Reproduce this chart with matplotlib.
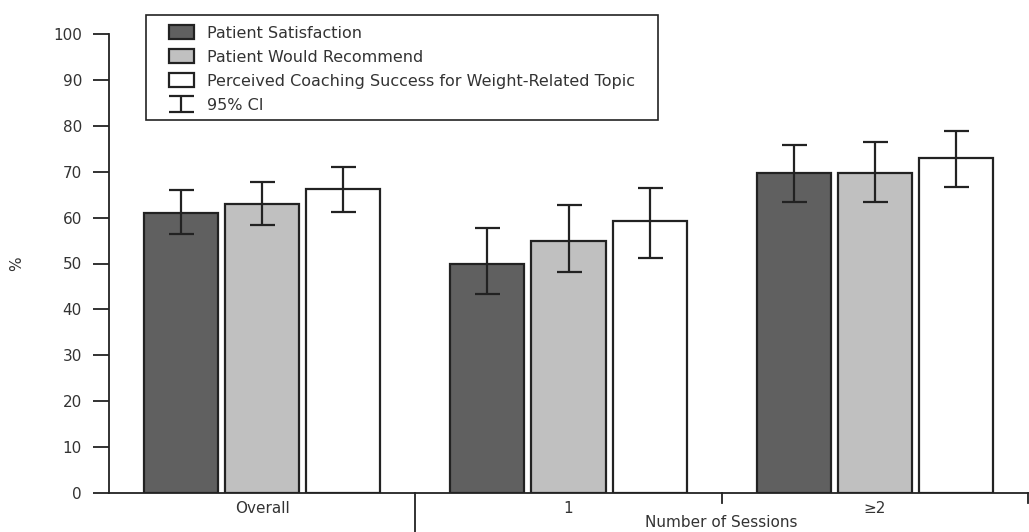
import numpy as np
import matplotlib
matplotlib.use('Agg')
import matplotlib.pyplot as plt
import matplotlib.transforms as mtransforms
from matplotlib.patches import Rectangle

# dati
groups = ['Overall', '1', '≥2']
series = ['Patient Satisfaction', 'Patient Would Recommend',
          'Perceived Coaching Success for Weight-Related Topic']
values = [
    [61.0, 49.8, 69.8],
    [63.0, 55.0, 69.8],
    [66.2, 59.3, 73.0],
]
ci_low = [
    [56.4, 43.3, 63.3],
    [58.4, 48.1, 63.3],
    [61.3, 51.3, 66.7],
]
ci_high = [
    [66.0, 57.8, 75.8],
    [67.8, 62.7, 76.4],
    [71.0, 66.4, 78.9],
]
colors = ['#606060', '#c0c0c0', '#ffffff']
txt = '#333333'

W, H = 1029, 532
fig = plt.figure(figsize=(W / 100, H / 100), dpi=100)
ax = fig.add_axes([109 / W, 1 - 493 / H, 919 / W, 459 / H])

x = np.arange(len(groups))
offset = 0.265
width = 0.242

bars = []
for i in range(len(series)):
    v = np.array(values[i])
    lo = v - np.array(ci_low[i])
    hi = np.array(ci_high[i]) - v
    b = ax.bar(x + (i - 1) * offset, v, width, color=colors[i], edgecolor='#222222',
               linewidth=1.6, label=series[i], zorder=2)
    bars.append(b)
    eb = ax.errorbar(x + (i - 1) * offset, v, yerr=[lo, hi], fmt='none',
                     ecolor='#222222', elinewidth=1.6, capsize=9, capthick=1.6, zorder=3)

ax.set_xlim(-0.5, 2.5)
ax.set_ylim(0, 100)
ax.set_yticks(np.arange(0, 101, 10))
ax.set_xticks(x)
ax.set_xticklabels(groups)
ax.spines['top'].set_visible(False)
ax.spines['right'].set_visible(False)
for s in ['left', 'bottom']:
    ax.spines[s].set_color('#222222')
    ax.spines[s].set_linewidth(1.3)
ax.tick_params(axis='y', length=11.5, width=1.3, color='#222222', pad=8,
               labelsize=11, labelcolor=txt)
ax.tick_params(axis='x', length=0, pad=6, labelsize=11, labelcolor=txt)

# separatori sotto l'asse x
trans = mtransforms.blended_transform_factory(ax.transData, ax.transAxes)
ax.plot([0.5, 0.5], [0, -0.085], color='#222222', lw=1.3, transform=trans, clip_on=False)
ax.plot([1.5, 1.5], [0, -0.022], color='#222222', lw=1.3, transform=trans, clip_on=False)
ax.plot([2.5, 2.5], [0, -0.022], color='#222222', lw=1.3, transform=trans, clip_on=False)
ax.text(1.5, -0.065, 'Number of Sessions', transform=trans, ha='center', va='center',
        fontsize=11, color=txt)

ax.set_ylabel('%', fontsize=11, color=txt)
ax.yaxis.set_label_coords(-0.0925, 0.5)

# riquadro della legenda
fig.patches.append(Rectangle((146 / W, 1 - 120 / H), (658 - 146) / W, 105 / H,
                             transform=fig.transFigure, facecolor='white',
                             edgecolor='#222222', linewidth=1.2, zorder=5))
leg = fig.legend(bars + [eb], series + ['95% CI'],
                 loc='upper left', bbox_to_anchor=(169 / W, 1 - 25 / H),
                 borderaxespad=0, borderpad=0, fontsize=11.5, frameon=False,
                 handlelength=1.55, handleheight=1.0,
                 handletextpad=0.85, labelspacing=0.53)
leg.set_zorder(6)
for t in leg.get_texts():
    t.set_color(txt)

fig.savefig('out.png', dpi=100)
